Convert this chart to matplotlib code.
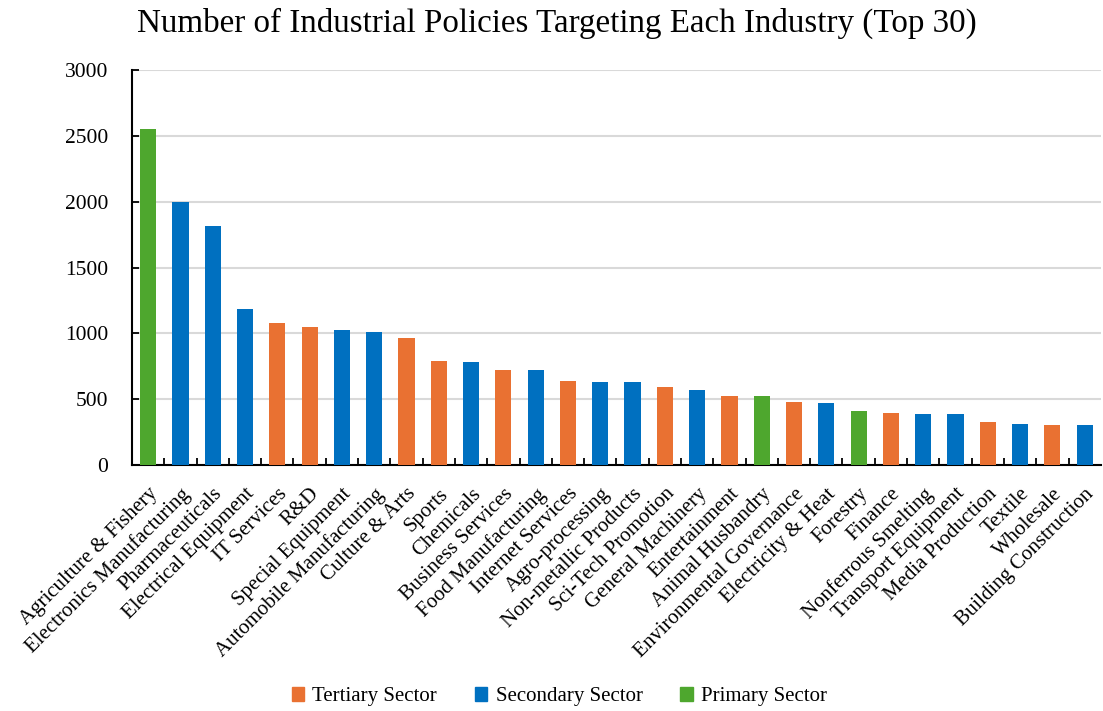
import matplotlib
matplotlib.use("Agg")
import matplotlib.pyplot as plt
from matplotlib.patches import Patch

plt.rcParams['font.family'] = ['Liberation Serif', 'DejaVu Serif']

industries = [
    "Agriculture & Fishery", "Electronics Manufacturing", "Pharmaceuticals",
    "Electrical Equipment", "IT Services", "R&D", "Special Equipment",
    "Automobile Manufacturing", "Culture & Arts", "Sports", "Chemicals",
    "Business Services", "Food Manufacturing", "Internet Services",
    "Agro-processing", "Non-metallic Products", "Sci-Tech Promotion",
    "General Machinery", "Entertainment", "Animal Husbandry",
    "Environmental Governance", "Electricity & Heat", "Forestry", "Finance",
    "Nonferrous Smelting", "Transport Equipment", "Media Production",
    "Textile", "Wholesale", "Building Construction",
]
counts = [
    2555, 1998, 1816, 1186, 1076, 1048, 1029, 1012, 965, 790, 782,
    723, 718, 640, 630, 630, 590, 568, 526, 521,
    482, 472, 407, 396, 385, 385, 324, 311, 306, 306,
]
sectors = [
    "Primary", "Secondary", "Secondary", "Secondary", "Tertiary", "Tertiary",
    "Secondary", "Secondary", "Tertiary", "Tertiary", "Secondary",
    "Tertiary", "Secondary", "Tertiary", "Secondary", "Secondary",
    "Tertiary", "Secondary", "Tertiary", "Primary",
    "Tertiary", "Secondary", "Primary", "Tertiary", "Secondary",
    "Secondary", "Tertiary", "Secondary", "Tertiary", "Secondary",
]
sector_colors = {"Tertiary": "#E97132", "Secondary": "#0070C0", "Primary": "#4EA72E"}
legend_order = ["Tertiary", "Secondary", "Primary"]

fig = plt.figure(figsize=(11.03, 7.11), dpi=100)
ax = fig.add_axes([0.1197, 0.346, 0.8783, 0.5555])

x = list(range(len(industries)))
ax.bar(x, counts, width=0.5, color=[sector_colors[s] for s in sectors], zorder=3)

ax.set_xlim(-0.5, len(industries) - 0.5)
ax.set_ylim(0, 3000)
ax.set_yticks(range(0, 3001, 500))
ax.tick_params(axis='y', labelsize=15.5, direction='in', length=5, width=1.3, pad=17)
ax.yaxis.grid(True, color='#D9D9D9', linewidth=1.5, zorder=0)
ax.set_axisbelow(True)

# category labels under the bars, ticks on the category boundaries
ax.set_xticks(x)
ax.set_xticklabels(industries, rotation=45, ha='right', rotation_mode='anchor', fontsize=15)
ax.tick_params(axis='x', length=0, pad=14)
ax.set_xticks([i + 0.5 for i in x[:-1]], minor=True)
ax.tick_params(axis='x', which='minor', direction='in', length=5, width=1.3)

for side in ('top', 'right'):
    ax.spines[side].set_visible(False)
for side in ('left', 'bottom'):
    ax.spines[side].set_linewidth(1.5)

fig.text(0.505, 0.967, "Number of Industrial Policies Targeting Each Industry (Top 30)",
         ha='center', va='center', fontsize=23.8)

handles = [Patch(color=sector_colors[s], label=f"{s} Sector") for s in legend_order]
fig.legend(handles=handles, loc='center', bbox_to_anchor=(0.507, 0.020), ncol=3,
           frameon=False, fontsize=15, handlelength=0.6, handleheight=0.6,
           handletextpad=0.4, columnspacing=1.8)

fig.savefig("out.png", dpi=100)
